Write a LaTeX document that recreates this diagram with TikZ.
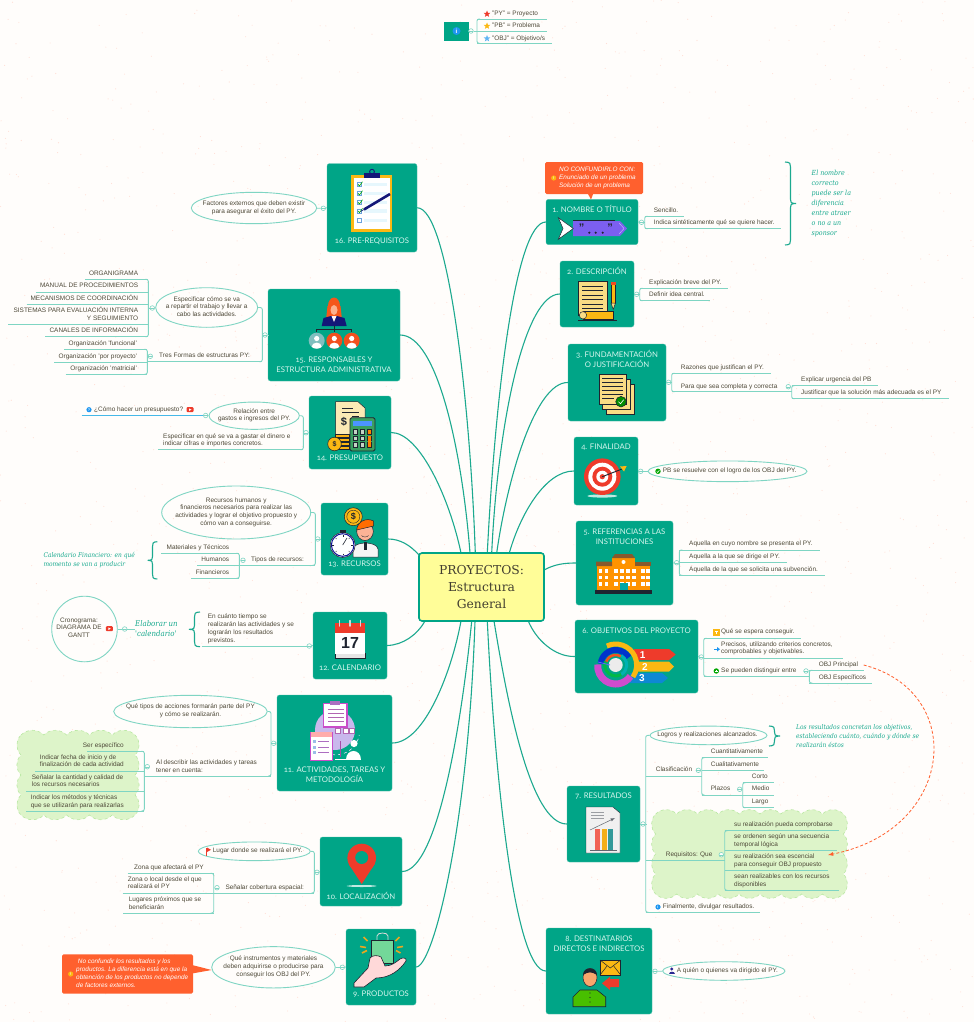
\documentclass[tikz,border=0pt]{standalone}
\usepackage{fontspec}
\setmainfont{Liberation Sans}
\newfontfamily\ttfam[Numbers=OldStyle]{Lato}
\newfontfamily\slabfam{DejaVu Serif}
\newfontfamily\itfam{DejaVu Serif Condensed}
\usetikzlibrary{shapes.geometric,calc}
\definecolor{bg}{HTML}{FFFDFB}
\definecolor{tealb}{HTML}{00A587}
\definecolor{mainc}{HTML}{1CA98F}
\definecolor{subc}{HTML}{7FD5C3}
\definecolor{txt}{HTML}{4E4938}
\definecolor{ital}{HTML}{17A98E}
\definecolor{titlec}{HTML}{D6F6EE}
\definecolor{orng}{HTML}{FF602E}
\definecolor{cloudf}{HTML}{DDF4C9}
\definecolor{cloudd}{HTML}{B9E8A2}
\definecolor{yel}{HTML}{FFFD98}
\definecolor{dk}{HTML}{1E2430}
\definecolor{paper}{HTML}{F8DC84}
\definecolor{ambr}{HTML}{FBB813}
\definecolor{redi}{HTML}{EE3B2B}
\definecolor{bluei}{HTML}{1E96F0}
\definecolor{skin}{HTML}{F9A66C}
\definecolor{purp}{HTML}{7C5FF0}
\definecolor{lila}{HTML}{C9B8EC}
\definecolor{linkb}{HTML}{45B8E8}
\newcommand\lfs{\fontsize{6.45}{7.7}\selectfont}
\newcommand\ttfs{\ttfam\fontsize{7.75}{10.4}\selectfont}
\tikzset{
 lab/.style={font=\lfs,text=txt,inner sep=0pt,align=left,execute at begin node=\strut,execute at end node=\strut},
 labc/.style={lab,align=center},
 sub/.style={draw=subc,line width=.9pt},
 mainl/.style={draw=mainc,line width=1.1pt},
 jctn/.style={circle,draw=subc,line width=.6pt,fill=bg,inner sep=0pt,minimum size=4.6pt,
   path picture={\draw[subc,line width=.4pt] (path picture bounding box.west)--(path picture bounding box.east);}},
 topic/.style={fill=tealb,rounded corners=2.5pt,inner sep=0pt,draw=tealb!70!white,line width=.3pt},
 ttl/.style={font=\ttfs,text=titlec,inner sep=0pt,align=center},
 ell/.style={ellipse,draw=subc,line width=.9pt,inner sep=0pt},
 brc/.style={draw=mainc,line width=1.1pt},
 ittx/.style={font=\itfam\itshape\fontsize{6.55}{9.1}\selectfont,text=ital,inner sep=0pt,align=left},
 ittxb/.style={ittx,font=\itfam\itshape\fontsize{7}{10}\selectfont},
 callout/.style={fill=orng,rounded corners=1.5pt},
 calltx/.style={font=\itshape\fontsize{6.4}{8}\selectfont,text=white,inner sep=0pt,align=left},
 ic/.style={draw=dk,line width=.5pt},
 cloudb/.style={fill=cloudf,draw=cloudd,line width=.6pt,dashed},
 starn/.style={star,star points=5,star point ratio=2.3,inner sep=0pt,minimum size=7pt},
}
\newcommand\leaf[7]{% name, text x, text y, line x1, line x2, line y, text
 \node[lab,anchor=west] (#1) at (#2,#3) {#7};
 \coordinate (#1L) at (#4,#6); \coordinate (#1R) at (#5,#6);
 \draw[sub] (#1L)--(#1R);}
\newcommand\leafE[7]{% same, text given by its right end
 \node[lab,anchor=east,align=right] (#1) at (#2,#3) {#7};
 \coordinate (#1L) at (#4,#6); \coordinate (#1R) at (#5,#6);
 \draw[sub] (#1L)--(#1R);}
\newcommand\bkR[2]{\draw[sub,rounded corners=2pt] ($(#1L)+(3,0)$)--(#1L)--(#2L)--($(#2L)+(3,0)$);}
\newcommand\bkL[2]{\draw[sub,rounded corners=2pt] ($(#1R)+(-3,0)$)--(#1R)--(#2R)--($(#2R)+(-3,0)$);}
\newcommand\jct[3]{\node[jctn] (#1) at (#2,#3) {};}
\newcommand\ellt[6]{% name cx cy w h text
 \node[ell,minimum width=#4pt,minimum height=#5pt] (#1) at (#2,#3) {};
 \node[labc] (#1t) at (#2,#3) {#6};}
\newcommand\topicbox[7]{% name x1 y1 x2 y2 titley title
 \node[topic,minimum width={#4-#2},minimum height={#5-#3}] (#1) at ({(#2+#4)/2},{(#3+#5)/2}) {};
 \node[ttl] (#1t) at ({(#2+#4)/2},#6) {#7};}
\newcommand\brcR[4]{% open x, tip x, y1, y2
 \pgfmathsetmacro\bm{(#1+#2)/2}\pgfmathsetmacro\bc{(#3+#4)/2}
 \draw[brc] (#1,#3) .. controls (\bm,#3) and (\bm,#3+2) .. (\bm,#3+5) -- (\bm,\bc-4) .. controls (\bm,\bc-1.5) and (\bm,\bc) .. (#2,\bc) .. controls (\bm,\bc) and (\bm,\bc+1.5) .. (\bm,\bc+4) -- (\bm,#4-5) .. controls (\bm,#4-2) and (\bm,#4) .. (#1,#4);}
\newcommand\cloudshape[6]{% x1 y1 x2 y2 nx ny
 \pgfmathsetmacro\cs{4}
 \pgfmathsetmacro\rx{(#3-#1-2*\cs)/#5/1.4142}
 \pgfmathsetmacro\ry{(#4-#2-2*\cs)/#6/1.4142}
 \draw[cloudb] (#1+\cs,#2+\cs)
  foreach \ci in {1,...,#5}{ arc[start angle=225,end angle=315,radius=\rx] }
  foreach \ci in {1,...,#6}{ arc[start angle=315,end angle=405,radius=\ry] }
  foreach \ci in {1,...,#5}{ arc[start angle=45,end angle=135,radius=\rx] }
  foreach \ci in {1,...,#6}{ arc[start angle=135,end angle=225,radius=\ry] } -- cycle;}
\newcommand\yt[2]{\fill[redi,rounded corners=1pt] (#1-3.5,#2-2.5) rectangle (#1+3.5,#2+2.5);\fill[white] (#1-1,#2-1.3)--(#1+1.5,#2)--(#1-1,#2+1.3)--cycle;}
\newcommand\dotic[4]{\fill[#3] (#1,#2) circle (2.6pt);\node[inner sep=0pt,font=\bfseries\fontsize{3.8}{4}\selectfont,text=white] at (#1,#2) {#4};}
\begin{document}
\begin{tikzpicture}[x=1pt,y=-1pt]
\useasboundingbox (0,0) rectangle (974,1022);
\fill[bg] (0,0) rectangle (974,1022);
\pgfmathsetseed{17}
\foreach \i in {1,...,1500}{\pgfmathsetmacro\xa{rnd*974}\pgfmathsetmacro\ya{rnd*1022}\fill[orange!45!red!16!white] (\xa,\ya) circle (.55pt);}
% ---- centre end points
\foreach \n/\cx/\cy in {c1/487.3/553,c2/491.7/553,c3/496.7/553,c4/509.3/553,c5/544/570,c6/528.3/621,c7/494/621,c8/487.3/621,
 c16/475.3/553,c15/470/553,c14/461/553,c13/419/555,c12/425/621,c11/461/621,c10/471.7/621,c9/475/621}{\coordinate (\n) at (\cx,\cy);}
% ---- topic boxes
\topicbox{T1}{546}{199.3}{638}{244.7}{209}{1. NOMBRE O TÍTULO}
\topicbox{T2}{560}{261}{634}{327}{271}{2. DESCRIPCIÓN}
\topicbox{T3}{568}{344}{666}{421}{359}{3. FUNDAMENTACIÓN\\O JUSTIFICACIÓN}
\topicbox{T4}{574}{437}{638}{505}{447.5}{4. FINALIDAD}
\topicbox{T5}{576}{521}{673}{605}{536.7}{5. REFERENCIAS A LAS\\INSTITUCIONES}
\topicbox{T6}{575}{620}{698}{693}{630.3}{6. OBJETIVOS DEL PROYECTO}
\topicbox{T7}{567}{786}{640}{862}{796}{7. RESULTADOS}
\topicbox{T8}{546}{928}{652}{1014}{944}{8. DESTINATARIOS\\DIRECTOS E INDIRECTOS}
\topicbox{T16}{327}{163.5}{417}{252}{241}{16. PRE-REQUISITOS}
\topicbox{T15}{268}{289}{400}{381}{364.5}{15. RESPONSABLES Y\\ESTRUCTURA ADMINISTRATIVA}
\topicbox{T14}{309}{396}{391}{469}{458}{14. PRESUPUESTO}
\topicbox{T13}{321}{503}{388}{575}{564}{13. RECURSOS}
\topicbox{T12}{313}{612}{387}{679}{668}{12. CALENDARIO}
\topicbox{T11}{277}{695}{392}{791}{775}{11. ACTIVIDADES, TAREAS Y\\METODOLOGÍA}
\topicbox{T10}{320}{837}{402}{906}{896}{10. LOCALIZACIÓN}
\topicbox{T9}{346}{929}{416}{1005}{994}{9. PRODUCTOS}
% ---- main curves
\draw[mainl] (T1.west) .. controls (515,222) and (495,400) .. (c1);
\draw[mainl] (T2.west) .. controls (525,294) and (498,420) .. (c2);
\draw[mainl] (T3.west) .. controls (535,382) and (507,480) .. (c3);
\draw[mainl] (T4.west) .. controls (545,471) and (520,515) .. (c4);
\draw[mainl] (T5.west) .. controls (565,563) and (555,564) .. (c5);
\draw[mainl] (T6.west) .. controls (555,657) and (536,640) .. (c6);
\draw[mainl] (T7.west) .. controls (530,824) and (507,700) .. (c7);
\draw[mainl] (T8.west) .. controls (515,971) and (495,780) .. (c8);
\draw[mainl] (T16.east) .. controls (448,208) and (470,400) .. (c16);
\draw[mainl] (T15.east) .. controls (437,335) and (462,450) .. (c15);
\draw[mainl] (T14.east) .. controls (420,432.5) and (450,500) .. (c14);
\draw[mainl] (T13.east) .. controls (400,539) and (410,545) .. (c13);
\draw[mainl] (T12.east) .. controls (403,645) and (417,635) .. (c12);
\draw[mainl] (T11.east) .. controls (425,743) and (452,670) .. (c11);
\draw[mainl] (T10.east) .. controls (438,871) and (462,720) .. (c10);
\draw[mainl] (T9.east) .. controls (433,967) and (468,830) .. (c9);
% ---- centre
\node[draw=tealb,fill=yel,line width=1.6pt,rounded corners=3pt,minimum width=125pt,minimum height=68pt,inner sep=0pt,
 align=center,font=\slabfam\fontsize{12.3}{17}\selectfont,text=txt!85!black] (C) at (481.5,587) {PROYECTOS:\\Estructura\\General};
% ---- legend
\node[fill=tealb,minimum width=25pt,minimum height=19pt,inner sep=0pt] (I) at (456.5,31.5) {};
\fill[bluei] (456.5,31) circle (4pt); \node[inner sep=0pt,font=\bfseries\fontsize{6}{6}\selectfont,text=white] at (456.5,31) {i};
\jct{jI}{471}{31}
\node[starn,fill=redi] at (487,14) {};
\node[starn,fill=ambr] at (487,26) {};
\node[starn,fill=bluei!70!white] at (487,38.5) {};
\leaf{lg1}{492}{14}{477}{547}{19}{"PY" = Proyecto}
\leaf{lg2}{492}{26.3}{477}{547}{31}{"PB" = Problema}
\leaf{lg3}{492}{38.7}{477}{552}{43.3}{"OBJ" = Objetivo/s}
\bkR{lg1}{lg3}
\draw[sub] (I.east)--(jI); \draw[sub] (jI)--(jI -| lg1L);
% ---- 1
\fill[callout] (545,162) rectangle (643,194);
\fill[orng] (587.5,193)--(591,199.5)--(593.5,193)--cycle;
\dotic{553.7}{178}{ambr}{!}
\node[calltx,anchor=west] (cal1) at (559,177.7) {NO CONFUNDIRLO CON:\\Enunciado de un problema\\Solución de un problema};
\jct{j1}{641.5}{222.3}
\leaf{l1a}{653.7}{210.7}{644.7}{684}{216.3}{Sencillo.}
\leaf{l1b}{653.7}{223.3}{644.7}{781}{228.7}{Indica sintéticamente qué se quiere hacer.}
\bkR{l1a}{l1b}
\draw[sub] (T1.east)--(j1); \draw[sub] (j1)--(j1 -| l1aL);
\brcR{785}{796}{162}{245}
\node[ittxb,anchor=west] (it1) at (811.5,204) {El nombre\\correcto\\puede ser la\\diferencia\\entre atraer\\o no a un\\sponsor};
% ---- 2
\jct{j2}{636.7}{294.3}
\leaf{l2a}{649}{282.7}{639.7}{727.7}{288.3}{Explicación breve del PY.}
\leaf{l2b}{649}{295}{639.7}{710}{300.7}{Definir idea central.}
\bkR{l2a}{l2b}
\draw[sub] (T2.east)--(j2); \draw[sub] (j2)--(j2 -| l2aL);
% ---- 3
\jct{j3}{668.7}{382.3}
\leaf{l3a}{680.7}{367.7}{671.7}{771}{373.3}{Razones que justifican el PY.}
\leaf{l3b}{680.7}{386.7}{671.7}{791.7}{391.7}{Para que sea completa y correcta}
\bkR{l3a}{l3b}
\draw[sub] (T3.east)--(j3); \draw[sub] (j3)--(j3 -| l3aL);
\jct{j3b}{788.3}{386.7}
\leaf{l3c}{801}{380}{791.7}{877.7}{385.7}{Explicar urgencia del PB}
\leaf{l3d}{801}{392.7}{791.7}{949}{398.7}{Justificar que la solución más adecuada es el PY}
\bkR{l3c}{l3d}
% ---- 4
\jct{j4}{640.7}{471.3}
\node[ell,minimum width=159pt,minimum height=20.7pt] (e4) at (727.5,471.3) {};
\draw[sub] (T4.east)--(j4); \draw[sub] (j4)--(e4);
\fill[green!65!black] (658,471.3) circle (2.7pt);
\draw[white,line width=.5pt] (656.7,471.3)--(657.7,472.4)--(659.4,470.2);
\node[lab,anchor=west] (l4) at (662.7,471.3) {PB se resuelve con el logro de los OBJ del PY.};
% ---- 5
\jct{j5}{676.7}{562.7}
\leaf{l5a}{689}{544.3}{679.3}{820}{550}{Aquella en cuyo nombre se presenta el PY.}
\leaf{l5b}{689}{557}{679.3}{786.7}{562.7}{Aquella a la que se dirige el PY.}
\leaf{l5c}{689}{569.7}{679.3}{825}{575.3}{Aquella de la que se solicita una subvención.}
\bkR{l5a}{l5c}
\draw[sub] (T5.east)--(j5); \draw[sub] (j5)--(l5bL);
% ---- 6
\jct{j6}{701.3}{657}
\leaf{l6a}{721}{632.3}{703.7}{800.7}{638.3}{Qué se espera conseguir.}
\leaf{l6b}{721}{648.9}{703.7}{843.3}{658}{Precisos, utilizando criterios concretos,\\comprobables y objetivables.}
\leaf{l6c}{721}{671}{703.7}{810}{676.3}{Se pueden distinguir entre}
\bkR{l6a}{l6c}
\draw[sub] (T6.east)--(j6); \draw[sub] (j6)--(l6bL);
\fill[ambr] (713.3,629)rectangle(719.5,635.5); \fill[white] (715,631) rectangle (717.8,632.2); \fill[white] (716,632)rectangle(716.9,634);
\fill[bluei] (714,648.5) rectangle (717,650); \fill[bluei] (717,647)--(720,649.2)--(717,651.5)--cycle;
\fill[green!65!black] (716.3,671) circle (2.7pt); \fill[white] (715,670.6) rectangle (717.6,671.4); \fill[white] (715.9,669.7) rectangle (716.7,672.3);
\jct{j6b}{806}{671}
\leaf{l6d}{818.7}{665}{809.3}{863.7}{670.3}{OBJ Principal}
\leaf{l6e}{818.7}{677.5}{809.3}{872.3}{683}{OBJ Específicos}
\bkR{l6d}{l6e}
% ---- 7
\jct{j7}{643}{824}
\node[ell,minimum width=117pt,minimum height=18.6pt] (e7) at (708.5,735.4) {};
\node[lab] (e7t) at (707.5,735.4) {Logros y realizaciones alcanzados.};
\leaf{l7b}{655.7}{770.3}{645.7}{701.7}{776}{Clasificación}
\leaf{l7c}{710.7}{752}{701.7}{768.3}{757.7}{Cuantitativamente}
\leaf{l7d}{710.7}{764.7}{701.7}{764}{770.3}{Cualitativamente}
\leaf{l7e}{710.7}{789.3}{701.7}{742.7}{795}{Plazos}
\bkR{l7c}{l7e}
\jct{j7b}{698.3}{770.3}
\leaf{l7f}{751.7}{777}{742.7}{774}{782.7}{Corto}
\leaf{l7g}{751.7}{789.3}{742.7}{774}{795}{Medio}
\leaf{l7h}{751.7}{802.3}{742.7}{774}{807.7}{Largo}
\bkR{l7f}{l7h}
\jct{j7c}{739.7}{789.3}
\cloudshape{651.7}{810}{847.3}{898}{9}{4}
\leaf{l7i}{665.7}{854.7}{645.7}{724.7}{860.3}{Requisitos: Que}
\leaf{l7j}{734}{824.7}{724.7}{839}{830.7}{su realización pueda comprobarse}
\leaf{l7k}{734}{841}{724.7}{836.7}{850.7}{se ordenen según una secuencia\\temporal lógica}
\leaf{l7l}{734}{861}{724.7}{827.7}{870.7}{su realización sea escencial\\para conseguir OBJ propuesto}
\leaf{l7m}{734}{881}{724.7}{839}{890.3}{sean realizables con los recursos\\disponibles}
\bkR{l7j}{l7m}
\jct{j7d}{721.3}{854.7}
\leaf{l7n}{662.7}{907}{645.7}{760}{912.3}{Finalmente, divulgar resultados.}
\dotic{658}{907}{bluei}{i}
\draw[sub,rounded corners=2pt] (e7.west)--(645.7,735.4)--(l7nL)--++(3,0);
\draw[sub] (T7.east)--(j7); \draw[sub] (j7)--(j7 -| l7bL);
\brcR{769}{780}{726}{746}
\node[ittx,anchor=west] (it7) at (796,735.7) {Los resultados concretan los objetivos,\\estableciendo cuánto, cuándo y dónde se\\realizarán éstos};
\draw[densely dashed,draw=orng,line width=.8pt,-latex] (l6dR |- l6d) .. controls (968,692) and (955,830) .. (828,855);
% ---- 8
\jct{j8}{655}{971.3}
\node[ell,minimum width=122.3pt,minimum height=18.6pt] (e8) at (723.8,971) {};
\draw[sub] (T8.east)--(j8); \draw[sub] (j8)--(e8);
\fill[txt!55!blue] (671.7,969) circle (1.6pt); \fill[txt!55!blue] (668.5,974.3) .. controls (668.5,971) and (675,971) .. (675,974.3) --cycle;
\node[lab,anchor=west] (l8) at (676.7,971.2) {A quién o quienes va dirigido el PY.};
% ---- 16
\jct{j16}{323.3}{208.3}
\ellt{e16}{254}{208}{125.4}{31.4}{Factores externos que deben existir\\para asegurar el éxito del PY.}
\draw[sub] (T16.west)--(j16); \draw[sub] (j16)--(e16);
% ---- 15
\jct{j15}{265}{335}
\ellt{e15}{206.7}{307.5}{102}{39.6}{Especificar cómo se va\\a repartir el trabajo y llevar a\\cabo las actividades.}
\leaf{l15t}{159}{356.3}{147.3}{262.3}{361.7}{Tres Formas de estructuras PY:}
\draw[sub,rounded corners=2pt] (e15.east)--(l15tR |- e15.east)--(l15tR)--++(-3,0);
\draw[sub] (T15.west)--(j15); \draw[sub] (j15)--(j15 -| l15tR);
\jct{j15a}{152.3}{308}
\draw[sub] (e15)--(j15a);
\leafE{l15a}{138.3}{273.7}{85}{148.3}{279.3}{ORGANIGRAMA}
\leafE{l15b}{138.3}{286.3}{36}{148.3}{292}{MANUAL DE PROCEDIMIENTOS}
\leafE{l15c}{138.3}{298.7}{26.7}{148.3}{304.3}{MECANISMOS DE COORDINACIÓN}
\leafE{l15d}{138.3}{315}{8.3}{148.3}{324.3}{SISTEMAS PARA EVALUACIÓN INTERNA\\Y SEGUIMIENTO}
\leafE{l15e}{138.3}{331}{45}{148.3}{336.7}{CANALES DE INFORMACIÓN}
\bkL{l15a}{l15e}
\draw[sub] (j15a)--(j15a -| l15aR);
\jct{j15b}{150.3}{356.3}
\leafE{l15f}{137.3}{343.7}{64.3}{147.3}{349.3}{Organización 'funcional'}
\leafE{l15g}{137.3}{356.7}{54}{147.3}{362}{Organización 'por proyecto'}
\leafE{l15h}{137.3}{369}{65.7}{147.3}{374.3}{Organización 'matricial'}
\bkL{l15f}{l15h}
% ---- 14
\jct{j14}{306}{432.7}
\ellt{e14}{254.2}{415.7}{90.3}{27.3}{Relación entre\\gastos e ingresos del PY.}
\leaf{l14b}{163}{440.9}{158.3}{303.3}{449.7}{Especificar en qué se va a gastar el dinero e\\indicar cifras e importes concretos.}
\draw[sub,rounded corners=2pt] (e14.east)--(l14bR |- e14.east)--(l14bR)--++(-3,0);
\draw[sub] (T14.west)--(j14); \draw[sub] (j14)--(j14 -| l14bR);
\jct{j14b}{205.7}{415.5}
\draw[sub] (e14)--(j14b);
\node[lab,anchor=west] (l14a) at (94,409.7) {¿Cómo hacer un presupuesto?};
\coordinate (l14aL) at (81.7,415.5);
\draw[draw=linkb,line width=.9pt] (l14aL)--(j14b);
\dotic{89}{409.7}{bluei}{?}
\yt{190}{409.7}
% ---- 13
\jct{j13}{317.7}{539}
\ellt{e13}{236.2}{512.5}{149}{53}{Recursos humanos y\\financieros necesarios para realizar las\\actividades y lograr el objetivo propuesto y\\cómo van a conseguirse.}
\leaf{l13t}{251}{560.3}{239.3}{315.3}{565.3}{Tipos de recursos:}
\draw[sub,rounded corners=2pt] (e13.east)--(l13tR |- e13.east)--(l13tR)--++(-3,0);
\draw[sub] (T13.west)--(j13); \draw[sub] (j13)--(j13 -| l13tR);
\jct{j13b}{243}{560.3}
\leafE{l13a}{229.3}{547.7}{161}{239.3}{553.3}{Materiales y Técnicos}
\leafE{l13b}{229.3}{560.3}{197.3}{239.3}{565.7}{Humanos}
\leafE{l13c}{229.3}{572.7}{191.3}{239.3}{578.3}{Financieros}
\bkL{l13a}{l13c}
\brcR{157.3}{147.7}{541.7}{579}
\node[ittx,anchor=west] (it13) at (43.3,560.5) {Calendario Financiero: en qué\\momento se van a producir};
% ---- 12
\jct{j12}{309.3}{646}
\leaf{l12}{207.7}{629.3}{201.7}{306.9}{646}{En cuánto tiempo se\\realizarán las actividades y se\\lograrán los resultados\\previstos.}
\draw[sub] (T12.west)--(j12);
\brcR{200}{189}{612}{646.7}
\node[ittx,font=\itfam\itshape\fontsize{7.8}{10}\selectfont,anchor=west] (it12) at (135,629) {Elaborar un\\'calendario'};
\jct{j12b}{124.7}{629}
\node[circle,draw=subc,line width=.9pt,minimum size=65.6pt,inner sep=0pt] (e12) at (84.5,629) {};
\node[labc] (l12b) at (79,628.8) {Cronograma:\\DIAGRAMA DE\\GANTT};
\yt{109.3}{628.7}
\draw[sub] (e12)--(j12b); \draw[sub] (j12b)--(it12);
% ---- 11
\jct{j11}{273.7}{743.3}
\ellt{e11}{190.5}{711.5}{153.6}{32.4}{Qué tipos de acciones formarán parte del PY\\y cómo se realizarán.}
\cloudshape{17}{731}{139}{819}{5}{4}
\leaf{l11t}{156}{767}{144.3}{271}{776}{Al describir las actividades y tareas\\tener en cuenta:}
\draw[sub,rounded corners=2pt] (e11.east)--(l11tR |- e11.east)--(l11tR)--++(-3,0);
\draw[sub] (T11.west)--(j11); \draw[sub] (j11)--(j11 -| l11tR);
\jct{j11b}{147.3}{766.7}
\leafE{l11a}{124}{745.7}{87.3}{144.3}{751.3}{Ser específico}
\leaf{l11b}{39.7}{761.9}{35}{144.3}{771.3}{Indicar fecha de inicio y de\\finalización de cada actividad}
\leaf{l11c}{31.7}{781.9}{26}{144.3}{791.3}{Señalar la cantidad y calidad de\\los recursos necesarios}
\leaf{l11d}{30.7}{802}{26}{144.3}{811}{Indicar los métodos y técnicas\\que se utilizarán para realizarlas}
\bkL{l11a}{l11d}
% ---- 10
\jct{j10}{317}{872.3}
\node[ell,minimum width=112pt,minimum height=18.7pt] (e10) at (254.3,851.3) {};
\node[lab,anchor=west] (l10) at (212.7,851.3) {Lugar donde se realizará el PY.};
\fill[redi] (206,847.5) rectangle (207,855.5); \fill[redi] (207,847.5)--(211,849.8)--(207,852)--cycle;
\leaf{l10t}{225.3}{887.7}{213.7}{314.3}{893}{Señalar cobertura espacial:}
\draw[sub,rounded corners=2pt] (e10.east)--(l10tR |- e10.east)--(l10tR)--++(-3,0);
\draw[sub] (T10.west)--(j10); \draw[sub] (j10)--(j10 -| l10tR);
\jct{j10b}{217}{887.7}
\leaf{l10a}{134}{867.7}{127.7}{213.7}{873.3}{Zona que afectará el PY}
\leaf{l10b}{127.7}{883.7}{122.7}{213.7}{893}{Zona o local desde el que\\realizará el PY}
\leaf{l10c}{128.7}{904}{123.3}{213.7}{913}{Lugares próximos que se\\beneficiarán}
\bkL{l10a}{l10c}
% ---- 9
\jct{j9}{342.3}{967.3}
\ellt{e9}{273.5}{967.3}{123.6}{41.3}{Qué instrumentos y materiales\\deben adquirirse o producirse para\\conseguir los OBJ del PY.}
\draw[sub] (T9.west)--(j9); \draw[sub] (j9)--(e9);
\fill[orng] (192,965)--(211.7,970)--(192,973.5)--cycle;
\fill[callout] (62,954.3) rectangle (193,993.7);
\dotic{70.7}{974}{ambr}{!}
\node[calltx,anchor=west] (cal9) at (76,973.7) {\ No confundir los resultados y los\\productos. La diferencia está en que la\\obtención de los productos no depende\\de factores externos.};
% ======== ICONS ========
% icon 1
\fill[purp] (573,221)--(620,221)--(627,228.5)--(620,236)--(573,236)--cycle;
\draw[dk,line width=.6pt] (573,220.3)--(615,220.3);
\draw[ic,fill=white] (558.3,217.7)--(573.3,228.5)--(558.3,239.3)--(563,228.5)--cycle;
\draw[white!70!purp,line width=.3pt] (619,223)--(624,228.5)--(619,234);
\foreach \qx in {581.7,610}{\node[inner sep=0pt,font=\bfseries\fontsize{11}{11}\selectfont,text=dk] at (\qx,228) {”};}
\foreach \qx in {589.3,595.7,602.7}{\fill[dk] (\qx,232.7) circle (1.2pt);}
% icon 2
\draw[ic,fill=paper] (578,281.7) rectangle (607,315);
\foreach \qy in {286,290.5,295,299.5,304,308.5}{\draw[dk,line width=.7pt] (582,\qy)--(603,\qy);}
\draw[ic,fill=ambr] (583,311.5) rectangle (613,319);
\draw[ic,fill=paper] (583,315.3) circle (3.7pt);
\draw[ic,fill=ambr] (611,284) rectangle (615.5,303); \draw[ic,fill=paper] (611,303)--(615.5,303)--(613.2,309.5)--cycle;
\fill[redi!80!orange] (611,282) rectangle (615.5,285);
\draw[dk,line width=.7pt] (578,320)--(617,320);
% icon 3
\draw[ic,fill=paper] (606,384) rectangle (634,414);
\draw[ic,fill=paper] (602.5,379) rectangle (630,409);
\draw[ic,fill=paper] (599,374) rectangle (626.5,404);
\foreach \qy in {378.5,382.5,386.5,390.5,394.5}{\draw[dk,line width=.7pt] (602,\qy)--(623,\qy);}
\draw[dk,line width=.7pt] (602,398.5)--(614,398.5);
\draw[ic,fill=green!55!black] (621,401.7) circle (5.3pt);
\draw[white,line width=.6pt] (618.5,401.7)--(620.5,403.7)--(623.7,399.7);
% icon 4
\fill[white!75!tealb] (602.3,496) ellipse (15pt and 1.6pt);
\fill[redi] (602.3,476.7) circle (18.3pt); \fill[white] (602.3,476.7) circle (14pt);
\fill[redi] (602.3,476.7) circle (10pt); \fill[white] (602.3,476.7) circle (6pt); \fill[redi] (602.3,476.7) circle (2.6pt);
\draw[dk,line width=.9pt] (602.3,476.7)--(622,469);
\fill[ambr] (620,466.5)--(626.7,466)--(624,471.5)--cycle;
% icon 5
\fill[dk] (595,590) rectangle (652,594);
\fill[orange!85!yellow] (597,566) rectangle (650,590);
\fill[orange!85!yellow] (612,558) rectangle (635,590);
\fill[brown!70!black] (596,561.7)--(600,561.7)--(612,561.7)--(612,566)--(596,566)--cycle;
\fill[brown!70!black] (635,561.7) rectangle (651,566);
\fill[brown!70!black] (612,558)--(615,554)--(632,554)--(635,558)--cycle;
\fill[white] (623.5,562) circle (2pt);
\foreach \wx in {598.5,604.5,614,620,626,632,641,646}{\foreach \wy in {569,575.5,582}{\fill[white] (\wx,\wy) rectangle +(3.5,3.5);}}
\fill[teal!70!cyan] (619.5,583) rectangle (628,590);
% icon 6
\fill[redi] (634,649)--(669,649)--(675.7,654.5)--(669,660)--(634,660)--cycle;
\fill[ambr] (634,661.7)--(669,661.7)--(674,666.7)--(669,671.7)--(634,671.7)--cycle;
\fill[cyan!70!blue] (630,673)--(662,673)--(668,678)--(662,683)--(630,683)--cycle;
\node[inner sep=0pt,font=\bfseries\fontsize{10}{10}\selectfont,text=white] at (642.7,655) {1};
\node[inner sep=0pt,font=\bfseries\fontsize{10}{10}\selectfont,text=white] at (645,666.7) {2};
\node[inner sep=0pt,font=\bfseries\fontsize{10}{10}\selectfont,text=white] at (642,678) {3};
\draw[violet!55!magenta!70!white,line width=7pt] (615.7,666) ++(35:18) arc[start angle=35,end angle=185,radius=18];
\draw[blue!60!teal,line width=6pt] (615.7,665) ++(185:15) arc[start angle=185,end angle=330,radius=15];
\draw[ambr,line width=5pt] (615.7,665) ++(-115:21) arc[start angle=-115,end angle=35,radius=21];
\draw[teal!60!cyan,line width=3pt] (615.7,665) ++(-60:11) arc[start angle=-60,end angle=60,radius=11];
\draw[green!45!teal,line width=3pt] (615.7,665) ++(60:11) arc[start angle=60,end angle=200,radius=11];
\draw[redi!70!orange,line width=2.5pt] (615.7,665) ++(200:10) arc[start angle=200,end angle=300,radius=10];
\fill[white!85!gray] (615.7,665) circle (7pt);
\draw[blue!60!white,line width=.8pt] (598,662)--(610,665);
% icon 7
\draw[ic,fill=white!88!gray,line width=.4pt] (586,807)--(613,807)--(620,813)--(620,853)--(586,853)--cycle;
\fill[redi!80!white] (595,829) rectangle (600,850);
\fill[ambr!85!brown] (601.7,829) rectangle (606.7,850);
\fill[teal!80!white] (608.3,829) rectangle (612.7,850);
\draw[dk!70,line width=.5pt,-latex] (590,830)--(615,818);
\foreach \qy in {812,815,818}{\draw[dk!45,line width=.4pt] (591,\qy)--(604,\qy);}
\draw[dk!70,line width=.4pt] (590,850.5)--(617,850.5);
% icon 8
\draw[ic,fill=ambr] (600,960) rectangle (620.7,975); \draw[ic] (600,960)--(610.3,968)--(620.7,960); \draw[ic] (600,975)--(607,966); \draw[ic] (620.7,975)--(613.7,966);
\fill[redi] (619,979)--(610,979)--(610,976.7)--(602,983.3)--(610,990)--(610,987)--(619,987)--cycle;
\draw[ic,fill=green!50!lime!75!black,line width=.6pt] (573,1006.7)--(573,997)--(580,990)--(597,990)--(605.7,997)--(605.7,1006.7)--cycle;
\draw[ic,fill=skin] (590,977.5) ellipse (7pt and 9pt);
\fill[dk] (583,975) .. controls (583,966) and (597,966) .. (597,975) .. controls (592,971.5) and (588,971.5) .. (583,975) -- cycle;
\foreach \qy in {993,997.5,1002}{\fill[dk] (590,\qy) circle (.6pt);}
% icon 9
\foreach \ra/\rb/\rc/\rd in {363.5/937/367.5/941,360/946.5/366/947.5,362/953/367/950.5,399.5/937/395.5/941,403/946.5/397/947.5,400.5/953/396/950.5}{\draw[ambr!70!brown,line width=1.6pt] (\ra,\rb)--(\rc,\rd);}
\draw[ic,line width=.8pt,draw=white!70!gray] (377,942)--(377,936) .. controls (377,932) and (388,932) .. (388,936)--(388,942);
\draw[ic,fill=green!45!teal!55!white] (371.7,940)--(393,940)--(393,963)--(371.7,963)--cycle;
\draw[ic,fill=pink!60!white,line width=.6pt] (354,983)--(354,987)--(364,987)--(376,978) .. controls (390,978) and (400,970) .. (406,961) .. controls (407,958) and (403,957) .. (400,959) .. controls (396,962) and (392,966) .. (385,966) -- (381,957) .. controls (378,955) and (372,955) .. (370,958) -- (368,968)--cycle;
% icon 10
\fill[white!75!tealb] (361.7,886) ellipse (15pt and 1pt);
\fill[redi] (361.7,858) circle (14.3pt);
\fill[redi] (348.7,864)--(361.7,884)--(374.7,864)--cycle;
\fill[tealb] (361.7,857.5) circle (6.5pt);
% icon 11
\draw[white!50!lila,line width=.6pt,dashed] (312,735) arc[start angle=190,end angle=350,radius=24pt];
\fill[lila] (335,730) circle (20pt);
\draw[violet!60!magenta!70,fill=white,line width=1.2pt] (323.3,703.5) rectangle (347,727);
\fill[lila!60!violet] (330,701) rectangle (340,705);
\foreach \qy in {709,713,717,721}{\draw[violet!60,line width=.5pt] (328,\qy)--(344,\qy);}
\foreach \sx/\sy in {335/728,343/728,349/728}{\draw[violet!60,fill=white,line width=.5pt] (\sx,\sy) rectangle +(5,5);}
\draw[violet!60!magenta!70,fill=white,line width=.8pt] (310.5,732) rectangle (332,760);
\fill[pink!90!red] (310.5,732) rectangle (332,737);
\foreach \qy in {741.5,747,752.5}{\fill[cyan!60!blue!40] (313,\qy-1.5) rectangle +(3,3);\draw[lila!60!violet,line width=.5pt] (318,\qy)--(329,\qy);}
\fill[white] (354,743.5) circle (3.6pt);
\fill[white] (346,760) .. controls (346,747.5) and (361,747.5) .. (361,760)--cycle;
\draw[violet!70,line width=.8pt] (340,741)--(340,757);\draw[white,line width=.8pt] (335,759.5)--(346,759.5);
% icon 12
\draw[dk,line width=.3pt,fill=white!80!gray] (335,653)--(365,653)--(365,658)--(335,658)--cycle;
\fill[white] (335,624) rectangle (365,654);
\fill[redi] (335,623) rectangle (365,633);
\foreach \qx in {339.5,350,360.5}{\draw[white!70!gray,line width=1.5pt,line cap=round] (\qx,620.5)--(\qx,626);}
\node[inner sep=0pt,font=\bfseries\fontsize{16}{16}\selectfont,text=dk] (n17) at (350,642.5) {17};
% icon 13
\draw[ic,fill=white!92!gray] (353,557)--(353,549) .. controls (354,541) and (377,541) .. (378,549)--(378,557)--cycle;
\fill[dk] (364,541.5) rectangle (367,550);
\draw[ic,fill=pink!50!skin] (365,531.5) ellipse (8.3pt and 9pt);
\draw[ic,fill=orange!85!red] (356.7,530)--(373.5,526)--(373.5,521) .. controls (366,517) and (357,522) .. (356.7,530)--cycle;
\draw[dk,line width=.35pt] (361.5,535.5)..controls (363,537.5) and (367,537.5)..(368.5,535.5);
\draw[ic,fill=white] (342.7,545) circle (12.5pt);
\draw[blue!50!dk,line width=1pt] (342.7,545) circle (11.3pt);
\fill[dk] (339.5,530) rectangle (346,533);
\draw[dk,line width=.6pt] (342.7,545)--(347,538);
\foreach \a in {0,45,...,315}{\draw[dk,line width=.4pt] (342.7,545)++(\a:8.5)--++(\a:1.8);}
\draw[ic,fill=ambr] (353.3,516.7) circle (9pt);
\draw[dk,line width=.4pt] (353.3,516.7) circle (6.5pt);
\node[inner sep=0pt,font=\bfseries\fontsize{9}{9}\selectfont,text=dk] (d13) at (353.3,516.7) {\$};
% icon 14
\draw[ic,fill=paper!60!white] (335.7,401.7)--(358,401.7)--(365,408)--(365,440)--(335.7,440)--cycle;
\draw[dk,line width=.6pt] (342,408)--(353,408);\draw[dk,line width=.6pt] (342,412)--(359,412);\draw[dk,line width=.6pt] (352,416)--(359,416);
\node[inner sep=0pt,font=\bfseries\fontsize{11}{11}\selectfont,text=dk] (d14) at (344,422) {\$};
\draw[ic,fill=green!35!gray!70!teal,line width=.9pt,rounded corners=1.5pt] (350,417.7) rectangle (375,451);
\fill[blue!60!cyan!70] (353,420.5) rectangle (372,426);
\foreach \qx in {353.5,360.5,367.5}{\foreach \qy in {429.5,436,442.5}{\draw[dk,fill=green!15!gray!40,line width=.5pt] (\qx,\qy) rectangle +(4,4.3);}}
\fill[orange] (367.7,429.7) rectangle (371.3,433.7); \fill[orange] (367.7,436) rectangle (371.3,447);
\foreach \qy in {434,438,442,446}{\draw[ic,fill=ambr!90!orange] (335,\qy) rectangle (349,\qy+3.6);}
\draw[ic,fill=ambr] (334.5,444) circle (6.8pt);
\node[inner sep=0pt,font=\bfseries\fontsize{7}{7}\selectfont,text=dk] (d14b) at (334.5,444) {\$};
% icon 15
\fill[redi!60!orange] (334,306) ellipse (6pt and 8.5pt);
\fill[redi!60!orange] (327.5,306)--(340.5,306)--(342,320)--(326,320)--cycle;
\fill[skin!60!pink] (334,310) ellipse (3.5pt and 5pt);
\fill[blue!35!dk] (321.7,326)--(323.5,318)--(331,316)--(337,316)--(344.5,318)--(346.7,326)--cycle;
\fill[white!80!pink] (331.5,316)--(336.5,316)--(334,322)--cycle;
\draw[dk,line width=.6pt] (334,326)--(334,332);\draw[dk,line width=.6pt] (316.7,332)--(316.7,329.5)--(351.7,329.5)--(351.7,332);
\foreach \px/\pc in {316.7/{teal!50!white},334.3/{redi!70!orange},351.7/{redi!70!orange}}{
 \fill[\pc] (\px,340.7) circle (8pt);
 \begin{scope}
 \clip (\px,340.7) circle (8pt);
 \fill[white] (\px,338.5) circle (2.6pt);
 \fill[white] (\px,346.8) ellipse (5pt and 4.2pt);
 \end{scope}}
% icon 16
\fill[ambr] (350.7,175) rectangle (392.3,231.7);
\fill[white] (353.5,178) rectangle (389.5,228.5);
\fill[blue!35!dk] (364,173) rectangle (380,177.5);
\draw[blue!35!dk,line width=.9pt] (372,171.7) circle (2.4pt);
\foreach \qy in {184.3,193.3,202.3,211,220.3}{\fill[cyan!10!white] (364,\qy-1.6) rectangle (387,\qy+1.6);
 \draw[cyan!60!blue!60,line width=.6pt] (357.5,\qy-2) rectangle +(4,4);}
\foreach \qy in {184.3,193.3,202.3,211}{\draw[green!65!black,line width=.6pt] (358,\qy)--(359.5,\qy+1.6)--(362.5,\qy-2.6);}
\draw[blue!35!dk,line width=2.6pt] (364,209.5)--(390,194);
\draw[blue!35!dk,line width=.6pt] (364,209.5)--(360.5,211.5);
\end{tikzpicture}
\end{document}
